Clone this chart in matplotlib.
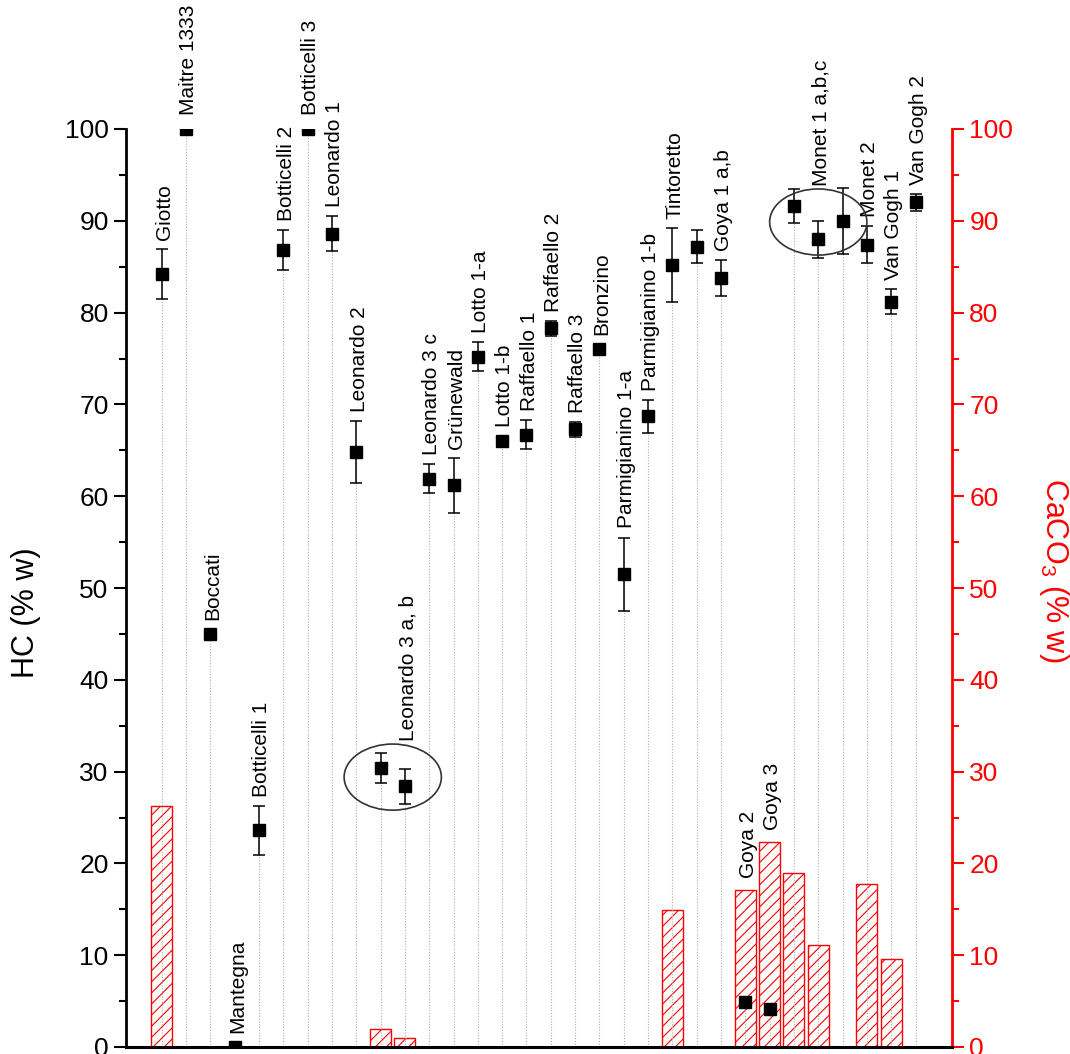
import numpy as np
import matplotlib
matplotlib.use('Agg')
import matplotlib.pyplot as plt
from matplotlib.patches import Ellipse
from matplotlib.ticker import MultipleLocator

plt.rcParams['font.family'] = ['Liberation Sans', 'DejaVu Sans']
plt.rcParams['mathtext.fontset'] = 'custom'
plt.rcParams['mathtext.rm'] = 'Liberation Sans'
plt.rcParams['hatch.linewidth'] = 0.8

# samples, left to right
names = ['Giotto', 'Maitre 1333', 'Boccati', 'Mantegna', 'Botticelli 1', 'Botticelli 2',
         'Botticelli 3', 'Leonardo 1', 'Leonardo 2', 'Leonardo 3 a', 'Leonardo 3 b',
         'Leonardo 3 c', 'Grünewald', 'Lotto 1-a', 'Lotto 1-b', 'Raffaello 1', 'Raffaello 2',
         'Raffaello 3', 'Bronzino', 'Parmigianino 1-a', 'Parmigianino 1-b', 'Tintoretto',
         'Goya 1 a', 'Goya 1 b', 'Goya 2', 'Goya 3', 'Monet 1 a', 'Monet 1 b', 'Monet 1 c',
         'Monet 2', 'Van Gogh 1', 'Van Gogh 2']
# text written next to each sample ('' = covered by a group label)
labels = ['Giotto', 'Maitre 1333', 'Boccati', 'Mantegna', 'Botticelli 1', 'Botticelli 2',
          'Botticelli 3', 'Leonardo 1', 'Leonardo 2', '', 'Leonardo 3 a, b',
          'Leonardo 3 c', 'Grünewald', 'Lotto 1-a', 'Lotto 1-b', 'Raffaello 1', 'Raffaello 2',
          'Raffaello 3', 'Bronzino', 'Parmigianino 1-a', 'Parmigianino 1-b', 'Tintoretto',
          '', 'Goya 1 a,b', 'Goya 2', 'Goya 3', '', 'Monet 1 a,b,c', '',
          'Monet 2', 'Van Gogh 1', 'Van Gogh 2']
hc = [84.2, 100, 45.0, 0, 23.6, 86.8, 100, 88.6, 64.8, 30.4, 28.4, 61.9, 61.2, 75.2, 66.0,
      66.7, 78.3, 67.3, 76.0, 51.5, 68.7, 85.2, 87.2, 83.8, 4.9, 4.1, 91.6, 88.0, 90.0,
      87.4, 81.2, 92.0]
hc_err = [2.7, 0, 0, 0, 2.7, 2.2, 0, 1.9, 3.4, 1.6, 1.9, 1.6, 3.0, 1.6, 0, 1.6, 0.8, 0.8,
          0, 4.0, 1.8, 4.0, 1.85, 1.95, 0, 0, 1.85, 2.0, 3.6, 2.0, 1.4, 0.9]
caco3 = [26.2, 0, 0, 0, 0, 0, 0, 0, 0, 2.0, 1.0, 0, 0, 0, 0, 0, 0, 0, 0, 0, 0, 14.9,
         0, 0, 17.1, 22.3, 19.0, 11.1, 0, 17.8, 9.6, 0]
# circled groups (index ranges) and the sample carrying the group label
groups = [(9, 10, 10), (26, 28, 27)]

x = np.arange(1, len(names) + 1)
hc = np.array(hc)
hc_err = np.array(hc_err)
caco3 = np.array(caco3)

fig = plt.figure(figsize=(10.7, 10.54), dpi=100)
ax = fig.add_axes([126 / 1070, 7 / 1054, 826 / 1070, 918 / 1054])
ax2 = ax.twinx()
ax.set_zorder(ax2.get_zorder() + 1)
ax.patch.set_visible(False)

red = '#ff0000'

# CaCO3 bars on the right axis
has = caco3 > 0
ax2.bar(x[has], caco3[has], width=0.86, color='white', edgecolor=red,
        hatch='///', linewidth=1.0)

# drop lines
pos = hc > 0
ax.vlines(x[pos], 0, hc[pos], colors='#b0b0b0', linestyles=(0, (1, 1.5)), linewidth=0.8,
          zorder=1)

# HC points
err = np.where(hc_err > 0, hc_err, np.nan)
ax.errorbar(x, hc, yerr=err, fmt='s', color='black', markersize=8, ecolor='black',
            elinewidth=1.1, capsize=4.5, capthick=1.1, zorder=3)

# ellipses around groups
group_top = {}
for i0, i1, il in groups:
    cx = x[i0:i1 + 1].mean()
    cy = hc[i0:i1 + 1].mean()
    ax.add_patch(Ellipse((cx, cy), 4.0, 7.2, fill=False, edgecolor='#333333',
                         linewidth=1.2, zorder=4))
    group_top[il] = cy + 3.6

# sample labels
for i, lab in enumerate(labels):
    if not lab:
        continue
    if i in group_top:
        base, pad = group_top[i], 2
    elif caco3[i] > hc[i] + hc_err[i]:
        base, pad = caco3[i], 9
    elif hc_err[i] > 0:
        base, pad = hc[i] + hc_err[i], 6.5
    else:
        base, pad = hc[i], 10
    ax.annotate(lab, (x[i], base), xytext=(2, pad), textcoords='offset points',
                rotation=90, ha='center', va='bottom', fontsize=15, annotation_clip=False)

ax.set_xlim(-0.47, 33.5)
ax.set_ylim(0, 100)
ax2.set_ylim(0, 100)

ax.set_yticks(np.arange(0, 101, 10))
ax.yaxis.set_minor_locator(MultipleLocator(5))
ax2.set_yticks(np.arange(0, 101, 10))
ax2.yaxis.set_minor_locator(MultipleLocator(5))

ax.tick_params(axis='x', bottom=False, labelbottom=False)
ax2.tick_params(axis='x', bottom=False, labelbottom=False)
ax.tick_params(axis='y', which='major', direction='out', length=8.5, width=1.5,
               labelsize=19, pad=4)
ax.tick_params(axis='y', which='minor', direction='out', length=5, width=1.5)
ax2.tick_params(axis='y', which='major', direction='out', length=8.5, width=1.5,
                labelsize=19, pad=4, colors=red)
ax2.tick_params(axis='y', which='minor', direction='out', length=5, width=1.5, colors=red)

for s in ['top', 'right']:
    ax.spines[s].set_visible(False)
for s in ['top', 'left', 'bottom']:
    ax2.spines[s].set_visible(False)
ax.spines['left'].set_linewidth(2)
ax.spines['bottom'].set_linewidth(2.2)
ax2.spines['right'].set_linewidth(2)
ax2.spines['right'].set_color(red)

fig.text(26 / 1070, 1 - 613 / 1054, 'HC (% w)', rotation=90, fontsize=22,
         ha='center', va='center')
fig.text(1054 / 1070, 1 - 570 / 1054, r'CaCO$_\mathrm{3}$ (% w)', rotation=270,
         fontsize=22, color=red, ha='center', va='center')

fig.savefig('out.png', dpi=100)
